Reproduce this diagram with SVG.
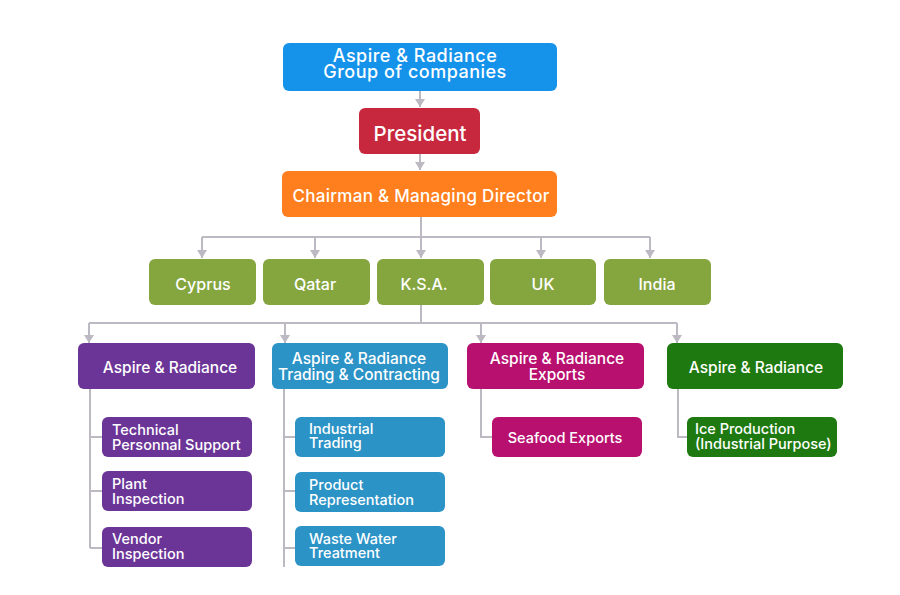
<svg xmlns="http://www.w3.org/2000/svg" width="900" height="595" viewBox="0 0 900 595">
<defs>
<marker id="ah" viewBox="0 0 8 10" refX="8" refY="5" markerWidth="8" markerHeight="10" markerUnits="userSpaceOnUse" orient="auto">
<path d="M0,0 L8,5 L0,10 Z" fill="#bcb9c2"/>
</marker>
<style>
text{font-family:Inter,"Open Sans","Liberation Sans",sans-serif;font-weight:500;fill:#fff}
.c{text-anchor:middle}
.l0{font-size:18px;letter-spacing:0.5px}
.l1{font-size:17px;letter-spacing:0.3px}
.l2{font-size:16px}
.l3{font-size:15.5px}
.s{font-size:14.5px}
.ln{fill:none;stroke:#bcb9c2;stroke-width:2}
</style>
</defs>
<rect width="900" height="595" fill="#fff"/>
<g id="connectors">
<path class="ln" d="M420,91 V107" marker-end="url(#ah)"/>
<path class="ln" d="M420,154 V170" marker-end="url(#ah)"/>
<path class="ln" d="M421,217 V237"/>
<path class="ln" d="M202,237 H650"/>
<path class="ln" d="M202,237 V258" marker-end="url(#ah)"/>
<path class="ln" d="M315,237 V258" marker-end="url(#ah)"/>
<path class="ln" d="M421,237 V258" marker-end="url(#ah)"/>
<path class="ln" d="M541,237 V258" marker-end="url(#ah)"/>
<path class="ln" d="M650,237 V258" marker-end="url(#ah)"/>
<path class="ln" d="M421,305 V323"/>
<path class="ln" d="M89,323 H677"/>
<path class="ln" d="M89,323 V343" marker-end="url(#ah)"/>
<path class="ln" d="M285,323 V343" marker-end="url(#ah)"/>
<path class="ln" d="M481,323 V343" marker-end="url(#ah)"/>
<path class="ln" d="M677,323 V343" marker-end="url(#ah)"/>
<path class="ln" d="M90,389 V548 M90,437 H102 M90,491 H102 M90,548 H102"/>
<path class="ln" d="M284,389 V567 M284,437 H295 M284,491 H295 M284,548 H295"/>
<path class="ln" d="M481,389 V437 H492"/>
<path class="ln" d="M678,389 V437 H687"/>
</g>
<g id="group">
<rect x="283" y="43" width="274" height="48" rx="6" fill="#1593eb"/>
<text class="c l0" x="415" y="62">Aspire &amp; Radiance</text>
<text class="c l0" x="415" y="78">Group of companies</text>
</g>
<g id="president">
<rect x="359" y="108" width="121" height="46" rx="6" fill="#c7283e"/>
<text class="c" x="420" y="141" style="font-size:20.5px">President</text>
</g>
<g id="chairman">
<rect x="282" y="171" width="275" height="46" rx="6" fill="#ff7f1e"/>
<text class="c l1" x="421" y="202">Chairman &amp; Managing Director</text>
</g>
<g id="cyprus">
<rect x="149" y="259" width="107" height="46" rx="6" fill="#85a53f"/>
<text class="c l2" x="203" y="290">Cyprus</text>
</g>
<g id="qatar">
<rect x="263" y="259" width="107" height="46" rx="6" fill="#85a53f"/>
<text class="c l2" x="315" y="290">Qatar</text>
</g>
<g id="ksa">
<rect x="377" y="259" width="107" height="46" rx="6" fill="#85a53f"/>
<text class="c l2" x="424" y="290">K.S.A.</text>
</g>
<g id="uk">
<rect x="490" y="259" width="106" height="46" rx="6" fill="#85a53f"/>
<text class="c l2" x="543" y="290">UK</text>
</g>
<g id="india">
<rect x="604" y="259" width="107" height="46" rx="6" fill="#85a53f"/>
<text class="c l2" x="657" y="290">India</text>
</g>
<g id="ar-purple">
<rect x="78" y="343" width="177" height="46" rx="6" fill="#6b3597"/>
<text class="c l3" x="170" y="373">Aspire &amp; Radiance</text>
</g>
<g id="ar-trading">
<rect x="272" y="343" width="176" height="46" rx="6" fill="#2b93c6"/>
<text class="c l3" x="359" y="364">Aspire &amp; Radiance</text>
<text class="c l3" x="359" y="380">Trading &amp; Contracting</text>
</g>
<g id="ar-exports">
<rect x="467" y="343" width="177" height="46" rx="6" fill="#b8106f"/>
<text class="c l3" x="557" y="364">Aspire &amp; Radiance</text>
<text class="c l3" x="557" y="380">Exports</text>
</g>
<g id="ar-green">
<rect x="667" y="343" width="176" height="46" rx="6" fill="#1e7a10"/>
<text class="c l3" x="756" y="373">Aspire &amp; Radiance</text>
</g>
<g id="technical">
<rect x="102" y="417" width="150" height="40" rx="6" fill="#6b3597"/>
<text class="s" x="112" y="435">Technical</text>
<text class="s" x="112" y="450">Personnal Support</text>
</g>
<g id="plant">
<rect x="102" y="471" width="150" height="40" rx="6" fill="#6b3597"/>
<text class="s" x="112" y="489">Plant</text>
<text class="s" x="112" y="504">Inspection</text>
</g>
<g id="vendor">
<rect x="102" y="527" width="150" height="40" rx="6" fill="#6b3597"/>
<text class="s" x="112" y="544">Vendor</text>
<text class="s" x="112" y="559">Inspection</text>
</g>
<g id="industrial">
<rect x="295" y="417" width="150" height="40" rx="6" fill="#2b93c6"/>
<text class="s" x="309" y="434">Industrial</text>
<text class="s" x="309" y="448">Trading</text>
</g>
<g id="product">
<rect x="295" y="472" width="150" height="40" rx="6" fill="#2b93c6"/>
<text class="s" x="309" y="490">Product</text>
<text class="s" x="309" y="505">Representation</text>
</g>
<g id="waste">
<rect x="295" y="526" width="150" height="40" rx="6" fill="#2b93c6"/>
<text class="s" x="309" y="544">Waste Water</text>
<text class="s" x="309" y="558">Treatment</text>
</g>
<g id="seafood">
<rect x="492" y="417" width="150" height="40" rx="6" fill="#b8106f"/>
<text class="c s" x="565" y="443">Seafood Exports</text>
</g>
<g id="ice">
<rect x="687" y="417" width="150" height="40" rx="6" fill="#1e7a10"/>
<text class="s" x="695" y="434">Ice Production</text>
<text class="s" x="695" y="449">(Industrial Purpose)</text>
</g>
</svg>
